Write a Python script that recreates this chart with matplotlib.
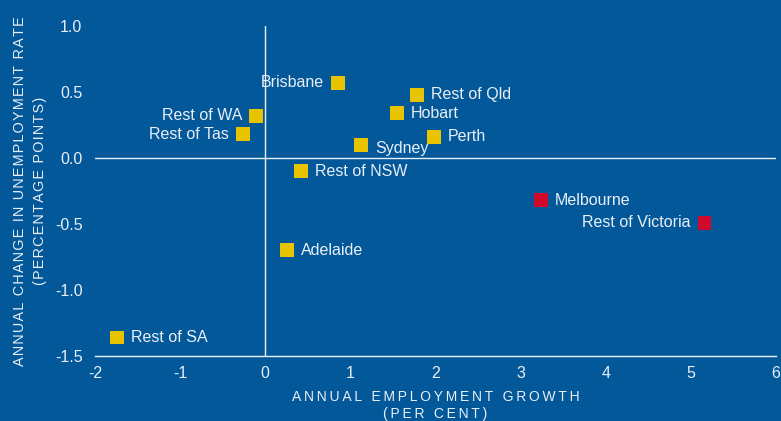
import matplotlib
matplotlib.use('Agg')
import matplotlib.pyplot as plt

# Regional employment growth vs change in unemployment rate
regions = ['Brisbane', 'Rest of Qld', 'Hobart', 'Perth', 'Sydney', 'Rest of NSW',
           'Rest of WA', 'Rest of Tas', 'Adelaide', 'Rest of SA',
           'Melbourne', 'Rest of Victoria']
emp_growth = [0.85, 1.78, 1.55, 1.98, 1.13, 0.42, -0.11, -0.26, 0.26, -1.74, 3.24, 5.16]
unemp_change = [0.57, 0.48, 0.34, 0.16, 0.10, -0.10, 0.32, 0.18, -0.70, -1.36, -0.32, -0.49]
victoria = ['Melbourne', 'Rest of Victoria']
left_labels = ['Brisbane', 'Rest of WA', 'Rest of Tas', 'Rest of Victoria']

x_ticks = [-2, -1, 0, 1, 2, 3, 4, 5, 6]
y_ticks = [-1.5, -1.0, -0.5, 0.0, 0.5, 1.0]

BG = '#03589a'
FG = '#e9eff6'
YELLOW = '#e8c300'
RED = '#d10a2c'

plt.rcParams['font.family'] = ['Liberation Sans', 'DejaVu Sans']


def spaced(s, gap='\u2009'):
    # letter-spaced caps like the original axis titles
    return gap.join(s)


fig = plt.figure(figsize=(7.81, 4.21), dpi=100)
fig.patch.set_facecolor(BG)
ax = fig.add_axes([0.1216, 0.1544, 0.872, 0.784])
ax.set_facecolor(BG)

ax.set_xlim(-2, 6)
ax.set_ylim(-1.5, 1.0)

for s in ['top', 'right', 'left']:
    ax.spines[s].set_visible(False)
ax.spines['bottom'].set_color(FG)
ax.spines['bottom'].set_linewidth(1.0)
ax.axhline(0, color=FG, lw=1.0, zorder=1)
ax.axvline(0, color=FG, lw=1.0, zorder=1)

ax.set_xticks(x_ticks)
ax.set_xticklabels([str(t) for t in x_ticks])
ax.set_yticks(y_ticks)
ax.set_yticklabels(['%.1f' % t for t in y_ticks])
ax.tick_params(length=0, colors=FG, labelsize=11.5)
ax.tick_params(axis='y', pad=9)
ax.tick_params(axis='x', pad=7)

for name, x, y in zip(regions, emp_growth, unemp_change):
    col = RED if name in victoria else YELLOW
    ax.scatter([x], [y], marker='s', s=100, color=col, edgecolors='none', zorder=3)
    if name in left_labels:
        ax.annotate(name, (x, y), xytext=(-10, 0), textcoords='offset points',
                    ha='right', va='center', color=FG, fontsize=11.5)
    else:
        dy = -3 if name == 'Sydney' else 0
        ax.annotate(name, (x, y), xytext=(10, dy), textcoords='offset points',
                    ha='left', va='center', color=FG, fontsize=11.5)

ax.set_xlabel(spaced('ANNUAL EMPLOYMENT GROWTH') + '\n' + spaced('(PER CENT)'),
              color=FG, fontsize=10, linespacing=1.2, labelpad=7)
ax.set_ylabel(spaced('ANNUAL CHANGE IN UNEMPLOYMENT RATE', '\u200a') + '\n'
              + spaced('(PERCENTAGE POINTS)', '\u200a'),
              color=FG, fontsize=10.4, linespacing=1.5, labelpad=6)

fig.savefig('out.png', dpi=100, facecolor=BG)
